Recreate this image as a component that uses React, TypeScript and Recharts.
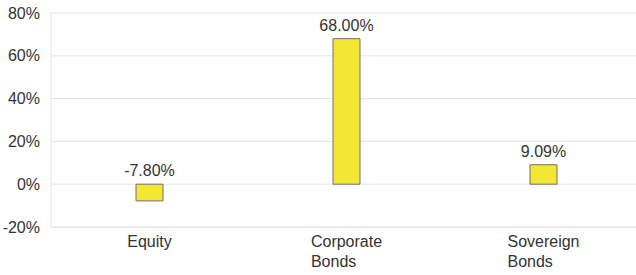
import { BarChart, Bar, XAxis, YAxis, CartesianGrid, LabelList } from "recharts"

const categories = ["Equity", "Corporate\nBonds", "Sovereign\nBonds"]
const values = [-7.8, 68.0, 9.09]
const yTicks = [-20, 0, 20, 40, 60, 80]

const data = categories.map((name, i) => ({ name, value: values[i] }))

const FONT = "'Liberation Sans', Arial, sans-serif"

function measure(text: string) {
  const ctx = document.createElement("canvas").getContext("2d")
  if (!ctx) return text.length * 8
  ctx.font = `16px ${FONT}`
  return ctx.measureText(text).width
}

// multi-line category label, lines left aligned, block centred on the band
function CategoryTick(props: any) {
  const { x, y, payload } = props
  const lines = String(payload.value).split("\n")
  const w = Math.max(...lines.map(measure))
  return (
    <text x={x - w / 2} y={y} fill="#333" fontSize={16} fontFamily={FONT} textAnchor="start">
      {lines.map((line, i) => (
        <tspan key={i} x={x - w / 2} dy={i === 0 ? 12 : 20}>
          {line}
        </tspan>
      ))}
    </text>
  )
}

function ValueLabel(props: any) {
  const { x, y, width, height, value } = props
  const top = Math.min(y, y + height)
  return (
    <text x={x + width / 2} y={top - 8} fill="#333" fontSize={16} fontFamily={FONT} textAnchor="middle">
      {value.toFixed(2)}%
    </text>
  )
}

export default function App() {
  return (
    <div style={{ position: "absolute", left: 0, top: 0 }}>
      <BarChart width={636} height={275} data={data} margin={{ top: 13, right: -6, left: 0, bottom: 0 }}>
        <CartesianGrid vertical={false} stroke="#e4e4e4" />
        <XAxis
          dataKey="name"
          height={48}
          axisLine={{ stroke: "#e4e4e4" }}
          tickLine={false}
          interval={0}
          tick={<CategoryTick />}
        />
        <YAxis
          width={51}
          domain={[-20, 80]}
          ticks={yTicks}
          tickFormatter={(v) => `${v}%`}
          axisLine={{ stroke: "#e4e4e4" }}
          tickLine={false}
          tickMargin={5}
          tick={{ fill: "#333", fontSize: 16, fontFamily: FONT }}
        />
        <Bar dataKey="value" fill="#f4e733" stroke="#707070" strokeWidth={1} barSize={27} isAnimationActive={false}>
          <LabelList dataKey="value" content={<ValueLabel />} />
        </Bar>
      </BarChart>
    </div>
  )
}
